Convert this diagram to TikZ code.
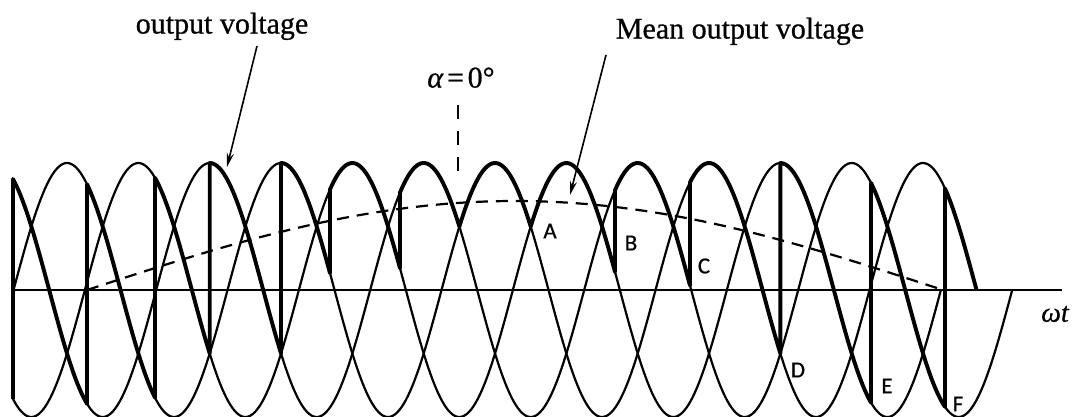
\documentclass[tikz,border=0pt]{standalone}
\usepackage{fontspec}
\setmainfont{Liberation Serif}
\newfontfamily\capfont[FakeBold=0.7]{Liberation Serif}
\newfontfamily\lblfont[FakeBold=0.5]{Carlito}
\usetikzlibrary{arrows.meta}
\begin{document}
\begin{tikzpicture}[x=1pt,y=-1pt,
  wave/.style={line width=2.2pt},
  outv/.style={line width=3.9pt, line join=round},
  meanv/.style={line width=2.2pt, dash pattern=on 12pt off 8pt},
  alphamark/.style={line width=2.2pt, dash pattern=on 14pt off 12pt},
  callout/.style={line width=1.6pt, -{Stealth[length=14pt,width=7pt]}},
  lbl/.style={font=\lblfont\fontsize{23}{23}\selectfont, inner sep=0pt},
  caption/.style={font=\capfont\fontsize{30}{32}\selectfont, inner sep=0pt, anchor=base}]
\fill[white] (0,0) rectangle (1081,416);
\useasboundingbox (0,0) rectangle (1081,416);
% time axis
\draw[wave] (13,290) -- (1062,290);
% three supply voltages (period 214, peaks every 71.33)
\foreach \j/\e in {0/1012.2, 1/976.5, 2/940.9}{
  \draw[wave] plot[domain=13:\e, samples=450] (\x,{290-127*cos((\x+4.3-71.3333*\j)*1.682243)});
}
% mean output voltage
\draw[meanv] plot[domain=87:943, samples=150] (\x,{290-89*sin((\x-87)*0.2102804)});
% output voltage
\draw[outv] (13,399) \foreach \k/\xs/\xe in {0/13/87, 1/87/155, 2/155/209.7, 3/209.7/281.03, 4/281.03/330, 5/330/400, 6/400/459.36, 7/459.36/530.7, 8/530.7/615, 9/615/690, 10/690/780.37, 11/780.37/871, 12/871/945, 13/945/976.5}{
  -- plot[domain=\xs:\xe, samples=40] (\x,{290-127*cos((\x+4.3-71.3333*\k)*1.682243)})
};
% alpha = 0 marker
\coordinate (amtop) at (458,105);
\coordinate (ambot) at (458,172);
\draw[alphamark] (amtop) -- (ambot);
% texts
\node[caption] (ov) at (222,33.5) {output voltage};
\node[caption] (mov) at (740,38.5) {Mean output voltage};
\node[caption] (alpha) at (461,87.5) {\textit{α}\hspace{0.12em}=\hspace{0.12em}0°};
\node[font=\capfont\fontsize{28}{28}\selectfont\itshape, inner sep=0pt] (wt) at (1055,314) {ωt};
% callouts
\coordinate (ovtail) at (257,46);
\coordinate (ovtip) at (227,167);
\coordinate (movtail) at (606,55);
\coordinate (movtip) at (570,195);
\draw[callout] (ovtail) -- (ovtip);
\draw[callout] (movtail) -- (movtip);
% point labels
\node[lbl] (lA) at (550,231) {A};
\node[lbl] (lB) at (631,243) {B};
\node[lbl] (lC) at (704,266) {C};
\node[lbl] (lD) at (798,370) {D};
\node[lbl] (lE) at (887,386) {E};
\node[lbl] (lF) at (958,404) {F};
\end{tikzpicture}
\end{document}
